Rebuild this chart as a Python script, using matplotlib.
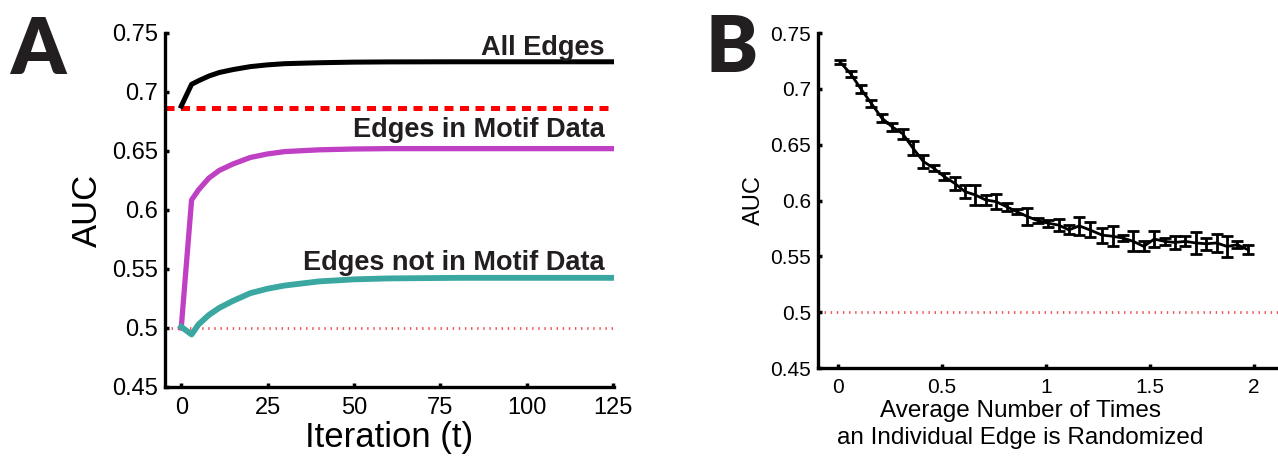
import matplotlib
matplotlib.use('Agg')
import matplotlib.pyplot as plt

plt.rcParams['font.family'] = ['Liberation Sans', 'DejaVu Sans']

# ---- panel A: AUC vs iteration ----
iters = [0, 3, 5, 8, 11, 15, 20, 25, 30, 40, 50, 60, 80, 100, 125]
auc_all = [0.688, 0.7065, 0.7095, 0.7135, 0.7165, 0.719, 0.7215, 0.723,
           0.724, 0.7248, 0.7253, 0.7255, 0.7256, 0.7256, 0.7256]
auc_motif = [0.500, 0.6085, 0.617, 0.627, 0.6335, 0.639, 0.6445, 0.6475,
             0.6495, 0.651, 0.6517, 0.652, 0.652, 0.652, 0.652]
auc_not_motif = [0.501, 0.4945, 0.503, 0.511, 0.517, 0.523, 0.5295, 0.5333,
                 0.536, 0.5395, 0.5412, 0.542, 0.5425, 0.5425, 0.5425]
baseline_motif = 0.6865
chance = 0.5

# ---- panel B: AUC vs randomization ----
rand_times = [0.01, 0.06, 0.11, 0.16, 0.21, 0.26, 0.31, 0.36, 0.41, 0.46,
              0.51, 0.56, 0.61, 0.66, 0.71, 0.76, 0.81, 0.86, 0.91, 0.96,
              1.01, 1.06, 1.11, 1.16, 1.21, 1.27, 1.32, 1.37, 1.42, 1.47,
              1.52, 1.57, 1.62, 1.67, 1.72, 1.77, 1.82, 1.87, 1.92, 1.97]
auc_rand = [0.724, 0.7137, 0.700, 0.687, 0.674, 0.666, 0.660, 0.647, 0.635, 0.629,
            0.6215, 0.6155, 0.608, 0.605, 0.6005, 0.599, 0.5945, 0.590, 0.5857, 0.582,
            0.5797, 0.578, 0.5737, 0.5773, 0.5737, 0.569, 0.568, 0.5664, 0.5634, 0.5589,
            0.5655, 0.5634, 0.5625, 0.5634, 0.562, 0.5613, 0.562, 0.5589, 0.5604, 0.556]
auc_rand_err = [0.0015, 0.0027, 0.0033, 0.0033, 0.0037, 0.0035, 0.0045, 0.0065, 0.006, 0.003,
                0.0033, 0.006, 0.006, 0.009, 0.0045, 0.007, 0.0035, 0.0025, 0.0078, 0.0025,
                0.0033, 0.0055, 0.004, 0.0083, 0.0068, 0.0068, 0.009, 0.003, 0.009, 0.0045,
                0.0072, 0.003, 0.006, 0.0045, 0.010, 0.0052, 0.008, 0.0097, 0.003, 0.004]

yticks = [0.45, 0.5, 0.55, 0.6, 0.65, 0.7, 0.75]
ytick_labels = ['0.45', '0.5', '0.55', '0.6', '0.65', '0.7', '0.75']
xticks_a = [0, 25, 50, 75, 100, 125]
xticks_b = [0, 0.5, 1, 1.5, 2]
xtick_labels_b = ['0', '0.5', '1', '1.5', '2']

fig = plt.figure(figsize=(12.78, 4.57), dpi=100)


def style_axes(ax, fs):
    for s in ['top', 'right']:
        ax.spines[s].set_visible(False)
    for s in ['left', 'bottom']:
        ax.spines[s].set_linewidth(2.4)
    ax.tick_params(direction='in', length=3, width=2.5, labelsize=fs, pad=5)
    ax.tick_params(axis='x', pad=7)


# panel A
axA = fig.add_axes([0.1291, 0.1532, 0.3513, 0.7746])
axA.axhline(baseline_motif, color='#ff0000', lw=3.6, dashes=(1.8, 1.3))
axA.axhline(chance, color='#f2505a', lw=2.0, dashes=(0.5, 1.7))
axA.plot(iters, auc_all, color='black', lw=3.6, solid_joinstyle='round')
axA.plot(iters, auc_motif, color='#c040c4', lw=3.8, solid_joinstyle='round')
axA.plot(iters, auc_not_motif, color='#3aa7a1', lw=4.2, solid_joinstyle='round')
axA.set_xlim(-4.7, 125.3)
axA.set_ylim(0.45, 0.75)
axA.set_xticks(xticks_a)
axA.set_yticks(yticks)
axA.set_yticklabels(ytick_labels)
style_axes(axA, 17)
axA.set_xlabel('Iteration (t)', fontsize=25, labelpad=2)
axA.set_ylabel('AUC', fontsize=25, labelpad=6)

lab_kw = dict(ha='right', va='baseline', fontsize=19.5, fontweight='bold',
              color='#231f20')
axA.text(122.5, 0.7315, 'All Edges', **lab_kw)
axA.text(122.5, 0.662, 'Edges in Motif Data', **lab_kw)
axA.text(122.5, 0.5495, 'Edges not in Motif Data', **lab_kw)

# panel B
axB = fig.add_axes([0.6401, 0.1947, 0.3599, 0.7330])
axB.axhline(chance, color='#f2505a', lw=2.0, dashes=(0.5, 1.7))
axB.errorbar(rand_times, auc_rand, yerr=auc_rand_err, color='black', lw=2,
             elinewidth=2, capsize=4.5, capthick=2)
axB.set_xlim(-0.096, 2.115)
axB.set_ylim(0.45, 0.75)
axB.set_xticks(xticks_b)
axB.set_xticklabels(xtick_labels_b)
axB.set_yticks(yticks)
axB.set_yticklabels(ytick_labels)
style_axes(axB, 15)
axB.set_xlabel('Average Number of Times\nan Individual Edge is Randomized',
               fontsize=17.5, linespacing=1.3, va='top')
axB.xaxis.set_label_coords(0.44, -0.095)
axB.set_ylabel('AUC', fontsize=17, labelpad=4)

# panel letters
fig.text(0.008, 0.965, 'A', fontsize=56, fontweight='heavy', color='#231f20',
         va='top', family=['Lato', 'DejaVu Sans'])
fig.text(0.552, 0.97, 'B', fontsize=56, fontweight='heavy', color='#231f20',
         va='top', family=['Lato', 'DejaVu Sans'])

fig.savefig('out.png', dpi=100)
